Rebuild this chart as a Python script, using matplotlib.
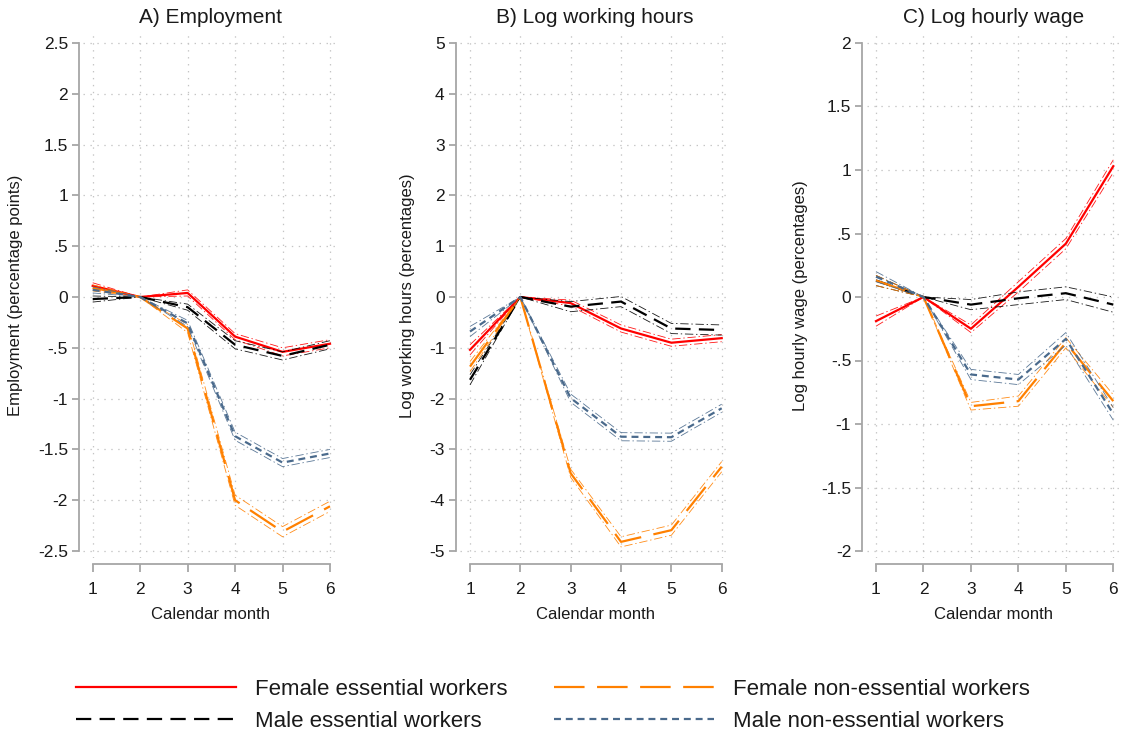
import matplotlib
matplotlib.use("Agg")
import matplotlib.pyplot as plt
from matplotlib.lines import Line2D
from matplotlib.ticker import FuncFormatter, FixedLocator

plt.rcParams['font.family'] = ['Liberation Sans', 'DejaVu Sans']
plt.rcParams['lines.scale_dashes'] = False

months = [1, 2, 3, 4, 5, 6]

# --- A) Employment (percentage points) ---
emp_fem_ess = [0.11, 0.0, 0.04, -0.39, -0.54, -0.46]
emp_male_ess = [-0.02, 0.0, -0.10, -0.47, -0.58, -0.47]
emp_fem_non = [0.09, 0.0, -0.31, -2.00, -2.31, -2.06]
emp_male_non = [0.07, 0.0, -0.26, -1.37, -1.63, -1.54]
emp_ci = {
    'fem_ess': [0.03, 0.0, 0.03, 0.03, 0.04, 0.04],
    'male_ess': [0.03, 0.0, 0.03, 0.04, 0.04, 0.04],
    'fem_non': [0.03, 0.0, 0.04, 0.05, 0.05, 0.05],
    'male_non': [0.03, 0.0, 0.03, 0.04, 0.04, 0.04],
}

# --- B) Log working hours (percentages) ---
hrs_fem_ess = [-1.04, 0.0, -0.12, -0.62, -0.90, -0.81]
hrs_male_ess = [-1.63, 0.0, -0.19, -0.09, -0.62, -0.65]
hrs_fem_non = [-1.37, 0.0, -3.47, -4.82, -4.59, -3.34]
hrs_male_non = [-0.68, 0.0, -1.99, -2.75, -2.76, -2.19]
hrs_ci = {
    'fem_ess': [0.10, 0.0, 0.06, 0.07, 0.07, 0.07],
    'male_ess': [0.10, 0.0, 0.10, 0.10, 0.10, 0.10],
    'fem_non': [0.10, 0.0, 0.08, 0.10, 0.10, 0.10],
    'male_non': [0.10, 0.0, 0.08, 0.08, 0.08, 0.08],
}

# --- C) Log hourly wage (percentages) ---
wage_fem_ess = [-0.19, 0.0, -0.25, 0.08, 0.42, 1.03]
wage_male_ess = [0.13, 0.0, -0.06, -0.01, 0.03, -0.06]
wage_fem_non = [0.13, 0.0, -0.86, -0.82, -0.36, -0.82]
wage_male_non = [0.16, 0.0, -0.61, -0.65, -0.33, -0.92]
wage_ci = {
    'fem_ess': [0.04, 0.0, 0.03, 0.04, 0.04, 0.05],
    'male_ess': [0.04, 0.0, 0.04, 0.05, 0.05, 0.06],
    'fem_non': [0.04, 0.0, 0.03, 0.04, 0.04, 0.05],
    'male_non': [0.04, 0.0, 0.04, 0.04, 0.05, 0.05],
}

titles = ["A) Employment", "B) Log working hours", "C) Log hourly wage"]
ylabels = ["Employment (percentage points)", "Log working hours (percentages)",
           "Log hourly wage (percentages)"]
yticks_a = [-2.5, -2, -1.5, -1, -0.5, 0, 0.5, 1, 1.5, 2, 2.5]
yticks_b = [-5, -4, -3, -2, -1, 0, 1, 2, 3, 4, 5]
yticks_c = [-2, -1.5, -1, -0.5, 0, 0.5, 1, 1.5, 2]

legend_labels = ["Female essential workers", "Male essential workers",
                 "Female non-essential workers", "Male non-essential workers"]

series_keys = ['fem_ess', 'male_ess', 'fem_non', 'male_non']
colors = {'fem_ess': '#FF0000', 'male_ess': '#000000',
          'fem_non': '#FF8000', 'male_non': '#4A6A8C'}
styles = {'fem_ess': '-', 'male_ess': (0, (11, 6)),
          'fem_non': (0, (22, 9)), 'male_non': (0, (5, 3.5))}

panels = [
    dict(data=[emp_fem_ess, emp_male_ess, emp_fem_non, emp_male_non], ci=emp_ci,
         yticks=yticks_a, m1=92.7, m6=330.0, ylab_x=23),
    dict(data=[hrs_fem_ess, hrs_male_ess, hrs_fem_non, hrs_male_non], ci=hrs_ci,
         yticks=yticks_b, m1=470.0, m6=721.7, ylab_x=415),
    dict(data=[wage_fem_ess, wage_male_ess, wage_fem_non, wage_male_non], ci=wage_ci,
         yticks=yticks_c, m1=876.0, m6=1113.3, ylab_x=808),
]

W, H = 1121, 734
fig = plt.figure(figsize=(W / 100, H / 100), dpi=100)
fig.patch.set_facecolor('white')

TOP_PX, BOT_PX = 33, 558
TICK_TOP, TICK_BOT = 43, 551
SPINE_GREY = '#A6A6A6'
TEXT = '#1A1A1A'


def fmt(v, _pos=None):
    if abs(v) < 1e-9:
        return "0"
    s = f"{v:g}"
    s = s.replace("0.", ".")
    return s


for i, p in enumerate(panels):
    step = (p['m6'] - p['m1']) / 5.0
    left = p['m1'] - 0.2 * step
    right = p['m6'] + 0.17 * step
    ax = fig.add_axes([left / W, 1 - BOT_PX / H, (right - left) / W, (BOT_PX - TOP_PX) / H])
    ax.set_facecolor('white')

    yt = p['yticks']
    ymin, ymax = yt[0], yt[-1]
    upp = (ymax - ymin) / (TICK_BOT - TICK_TOP)
    ax.set_ylim(ymin - (BOT_PX - TICK_BOT) * upp, ymax + (TICK_TOP - TOP_PX) * upp)
    ax.set_xlim(1 - 0.2, 6 + 0.17)

    ax.yaxis.set_major_locator(FixedLocator(yt))
    ax.yaxis.set_major_formatter(FuncFormatter(fmt))
    ax.set_xticks(months)
    ax.set_xticklabels([str(m) for m in months])

    ax.grid(True, color='#C4C4C4', linestyle=(0, (1, 4)), linewidth=0.9)
    ax.set_axisbelow(True)

    for side in ['top', 'right']:
        ax.spines[side].set_visible(False)
    for side in ['left', 'bottom']:
        ax.spines[side].set_color(SPINE_GREY)
        ax.spines[side].set_linewidth(1.3)
    ax.spines['left'].set_position(('outward', 3))
    ax.spines['left'].set_bounds(ymin, ymax)
    ax.spines['bottom'].set_position(('outward', 4.5))
    ax.spines['bottom'].set_bounds(1, 6)

    ax.tick_params(axis='y', colors=SPINE_GREY, width=1.3, length=5,
                   labelcolor=TEXT, labelsize=12.5, pad=3)
    ax.tick_params(axis='x', colors=SPINE_GREY, width=1.3, length=6,
                   labelcolor=TEXT, labelsize=12.5, pad=7)

    for key, vals in zip(series_keys, p['data']):
        hw = p['ci'][key]
        lo = [v - h for v, h in zip(vals, hw)]
        hi = [v + h for v, h in zip(vals, hw)]
        for band in (lo, hi):
            ax.plot(months, band, color=colors[key], linewidth=0.6,
                    linestyle=(0, (6, 2, 1, 2)), alpha=0.9)
        ax.plot(months, vals, color=colors[key], linewidth=1.6, linestyle=styles[key])

    ax.set_title(titles[i], fontsize=15, color=TEXT, pad=7)
    ax.set_xlabel("Calendar month", fontsize=12, color=TEXT, labelpad=7)
    ax.set_ylabel(ylabels[i], fontsize=12, color=TEXT)
    ax.yaxis.set_label_coords((p['ylab_x'] - left) / (right - left), 0.5)

handles = [Line2D([0], [0], color=colors[k], linewidth=1.6, linestyle=styles[k])
           for k in series_keys]
fig.legend(handles, legend_labels, loc='upper left', ncol=2, frameon=False,
           bbox_to_anchor=(76 / W, 1 - 679 / H), borderpad=0, borderaxespad=0,
           fontsize=16, handlelength=7.2, handletextpad=0.85, columnspacing=2.1,
           labelspacing=0.5, labelcolor=TEXT)

fig.savefig("out.png", dpi=100, facecolor='white')
